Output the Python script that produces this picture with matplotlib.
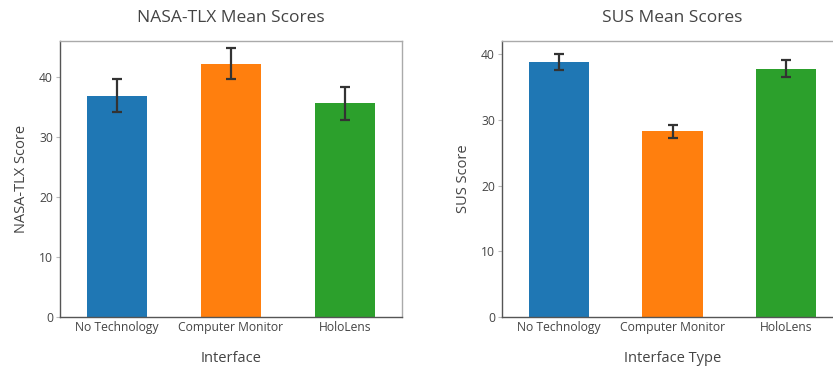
import matplotlib.pyplot as plt
import numpy as np

plt.rcParams['font.family'] = ['Open Sans', 'DejaVu Sans']

interfaces = ["No Technology", "Computer Monitor", "HoloLens"]
colors = ["#1f77b4", "#ff7f0e", "#2ca02c"]

tlx_mean = [36.9, 42.2, 35.6]
tlx_err = [2.7, 2.6, 2.7]

sus_mean = [38.8, 28.25, 37.8]
sus_err = [1.25, 1.0, 1.25]

fig = plt.figure(figsize=(8.33, 3.72), dpi=100)
ax1 = fig.add_axes([60/833, 55/372, 342/833, 276/372])
ax2 = fig.add_axes([502/833, 55/372, 341/833, 276/372])


def draw(ax, means, errs, title, xlabel, ylabel, ymax):
    x = np.arange(len(interfaces))
    ax.bar(x, means, width=0.53, color=colors, zorder=2)
    ax.errorbar(x, means, yerr=errs, fmt='none', ecolor='#333333',
                elinewidth=1.6, capsize=3.5, capthick=1.6, zorder=3)
    ax.set_xlim(-0.5, 2.5)
    ax.set_ylim(0, ymax)
    ax.set_xticks(x)
    ax.set_xticklabels(interfaces)
    ax.set_yticks([0, 10, 20, 30, 40])
    ax.tick_params(axis='x', length=0, pad=3, labelsize=8.7, labelcolor='#444444')
    ax.tick_params(axis='y', length=3, width=0.8, color='#bbbbbb', pad=2,
                   labelsize=8.7, labelcolor='#444444')
    for side in ['left', 'bottom']:
        ax.spines[side].set_color('#555555')
        ax.spines[side].set_linewidth(1.0)
    for side in ['top', 'right']:
        ax.spines[side].set_color('#aaaaaa')
        ax.spines[side].set_linewidth(1.0)
    ax.set_title(title, fontsize=12.5, color='#444444', pad=14)
    ax.set_xlabel(xlabel, fontsize=10.5, color='#444444', labelpad=12)
    ax.set_ylabel(ylabel, fontsize=10.5, color='#444444', labelpad=7)


draw(ax1, tlx_mean, tlx_err, "NASA-TLX Mean Scores", "Interface", "NASA-TLX Score", 46)
draw(ax2, sus_mean, sus_err, "SUS Mean Scores", "Interface Type", "SUS Score", 42)

fig.savefig("out.png", dpi=100)
